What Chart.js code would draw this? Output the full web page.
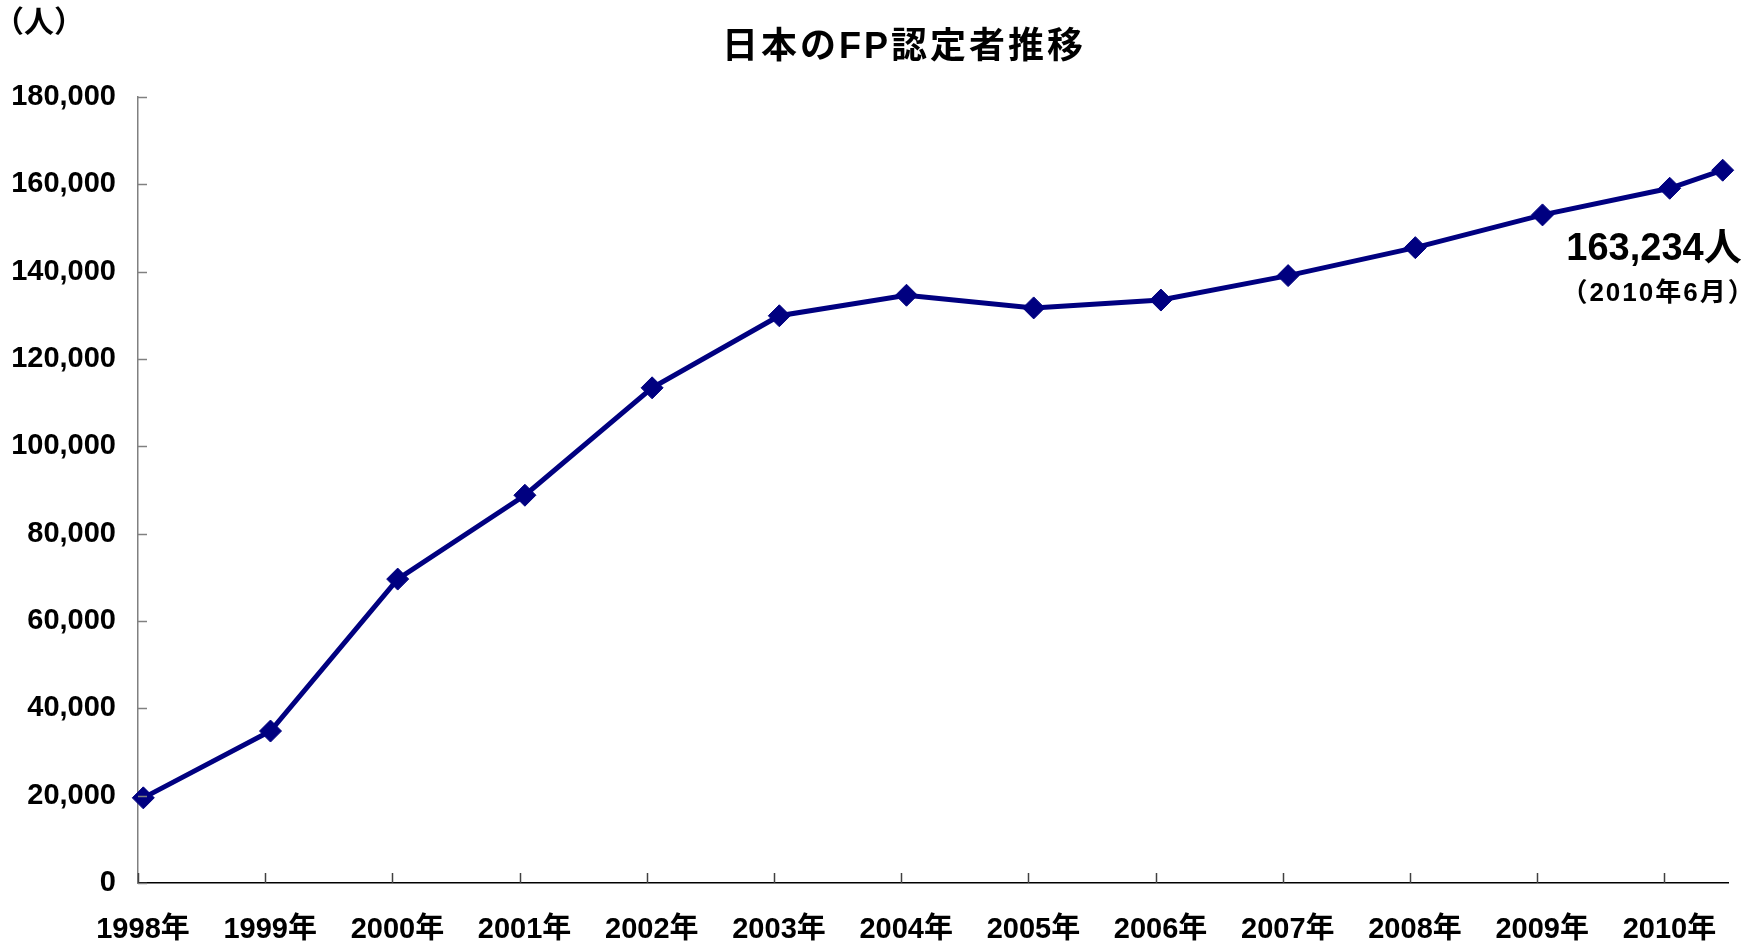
<!DOCTYPE html>
<html lang="ja">
<head>
  <meta charset="UTF-8" />
  <title>日本のFP認定者推移</title>
  <script src="https://cdn.jsdelivr.net/npm/chart.js"></script>
  <style>
    body {
      margin: 0;
      background: #ffffff;
    }

    .chart-box {
      width: 1758px;
      height: 943px;
      position: relative;
    }
  </style>
</head>
<body>

  <div class="chart-box">
    <canvas id="fpChart"></canvas>
  </div>

  <script>
    // FP certified holders in Japan (as of January each year, last point June 2010)
    const pointDates = ['1998-01', '1999-01', '2000-01', '2001-01', '2002-01', '2003-01', '2004-01',
                        '2005-01', '2006-01', '2007-01', '2008-01', '2009-01', '2010-01', '2010-06'];
    const fpHolders = [19500, 34800, 69600, 88800, 113400, 129900, 134600,
                       131700, 133500, 139100, 145500, 153000, 159100, 163234];
    const yearTicks = [1998, 1999, 2000, 2001, 2002, 2003, 2004, 2005, 2006, 2007, 2008, 2009, 2010];
    const yTicks = [0, 20000, 40000, 60000, 80000, 100000, 120000, 140000, 160000, 180000];

    const chartTitle = '日本のFP認定者推移';
    const unitLabel = '（人）';

    const FONT = "'Liberation Sans', 'Noto Sans CJK JP', sans-serif";
    const NAVY = '#000080';

    // '2010-06' -> 2010.46 (middle of the month on a year axis)
    function toYear(d) {
      const [y, m] = d.split('-').map(Number);
      return y + (m - 0.5) / 12;
    }

    const points = pointDates.map((d, i) => ({ x: toYear(d), y: fpHolders[i] }));
    const lastIdx = fpHolders.length - 1;
    const [lastY, lastM] = pointDates[lastIdx].split('-').map(Number);

    // title, unit, inner tick marks and the latest-value note
    const extras = {
      id: 'extras',
      afterDraw(chart) {
        const ctx = chart.ctx;
        const area = chart.chartArea;
        const xs = chart.scales.x;
        const ys = chart.scales.y;
        ctx.save();

        // tick marks pointing into the plot
        ctx.lineWidth = 1.5;
        ctx.strokeStyle = '#808080';
        yTicks.forEach(v => {
          const py = Math.round(ys.getPixelForValue(v)) + 0.5;
          ctx.beginPath();
          ctx.moveTo(area.left, py);
          ctx.lineTo(area.left + 9, py);
          ctx.stroke();
        });
        ctx.strokeStyle = '#404040';
        yearTicks.forEach(v => {
          const px = Math.round(xs.getPixelForValue(v)) + 0.5;
          ctx.beginPath();
          ctx.moveTo(px, area.bottom);
          ctx.lineTo(px, area.bottom - 10);
          ctx.stroke();
        });

        ctx.fillStyle = '#000';
        ctx.textBaseline = 'middle';

        // title
        ctx.font = 'bold 36px ' + FONT;
        ctx.letterSpacing = '3px';
        ctx.textAlign = 'center';
        ctx.fillText(chartTitle, 904, 48);
        ctx.letterSpacing = '0px';

        // unit
        ctx.font = 'bold 30px ' + FONT;
        ctx.textAlign = 'left';
        ctx.fillText(unitLabel, -6, 24);

        // latest value note next to the last point
        const meta = chart.getDatasetMeta(0).data[lastIdx];
        ctx.textAlign = 'right';
        ctx.font = 'bold 38px ' + FONT;
        ctx.fillText(fpHolders[lastIdx].toLocaleString('en-US') + '人', meta.x + 19, meta.y + 79);
        ctx.font = 'bold 26px ' + FONT;
        ctx.letterSpacing = '2px';
        ctx.fillText('（' + lastY + '年' + lastM + '月）', meta.x + 33, meta.y + 124);
        ctx.letterSpacing = '0px';

        ctx.restore();
      }
    };

    new Chart(document.getElementById('fpChart').getContext('2d'), {
      type: 'line',
      data: {
        datasets: [{
          label: 'FP認定者数',
          data: points,
          borderColor: NAVY,
          backgroundColor: NAVY,
          borderWidth: 5,
          tension: 0,
          pointStyle: 'rectRot',
          pointRadius: 11,
          pointBorderWidth: 1,
          pointBackgroundColor: NAVY,
          pointBorderColor: NAVY,
          clip: false
        }]
      },
      options: {
        responsive: true,
        maintainAspectRatio: false,
        animation: false,
        layout: {
          autoPadding: false,
          padding: { top: 97, left: 10, right: 30, bottom: 0 }
        },
        plugins: {
          legend: { display: false },
          title: { display: false },
          tooltip: { enabled: false }
        },
        scales: {
          x: {
            type: 'linear',
            min: 1998,
            max: 2010.5,
            grid: { display: false, drawTicks: false },
            border: { display: true, color: '#000', width: 1.5 },
            afterBuildTicks: axis => {
              axis.ticks = yearTicks.map(v => ({ value: v }));
            },
            afterFit: axis => {
              axis.height = 60;
            },
            ticks: {
              color: '#000',
              padding: 32,
              labelOffset: 5,
              maxRotation: 0,
              autoSkip: false,
              font: { family: FONT, size: 29, weight: 'bold', lineHeight: 1 },
              callback: v => v + '年'
            }
          },
          y: {
            min: 0,
            max: 180000,
            grid: { display: false, drawTicks: false },
            border: { display: true, color: '#808080', width: 1.5 },
            afterBuildTicks: axis => {
              axis.ticks = yTicks.map(v => ({ value: v }));
            },
            afterFit: axis => {
              axis.width = 128;
            },
            ticks: {
              color: '#000',
              padding: 22,
              font: { family: FONT, size: 29, weight: 'bold' },
              callback: v => v.toLocaleString('en-US')
            }
          }
        }
      },
      plugins: [extras]
    });
  </script>
</body>
</html>
